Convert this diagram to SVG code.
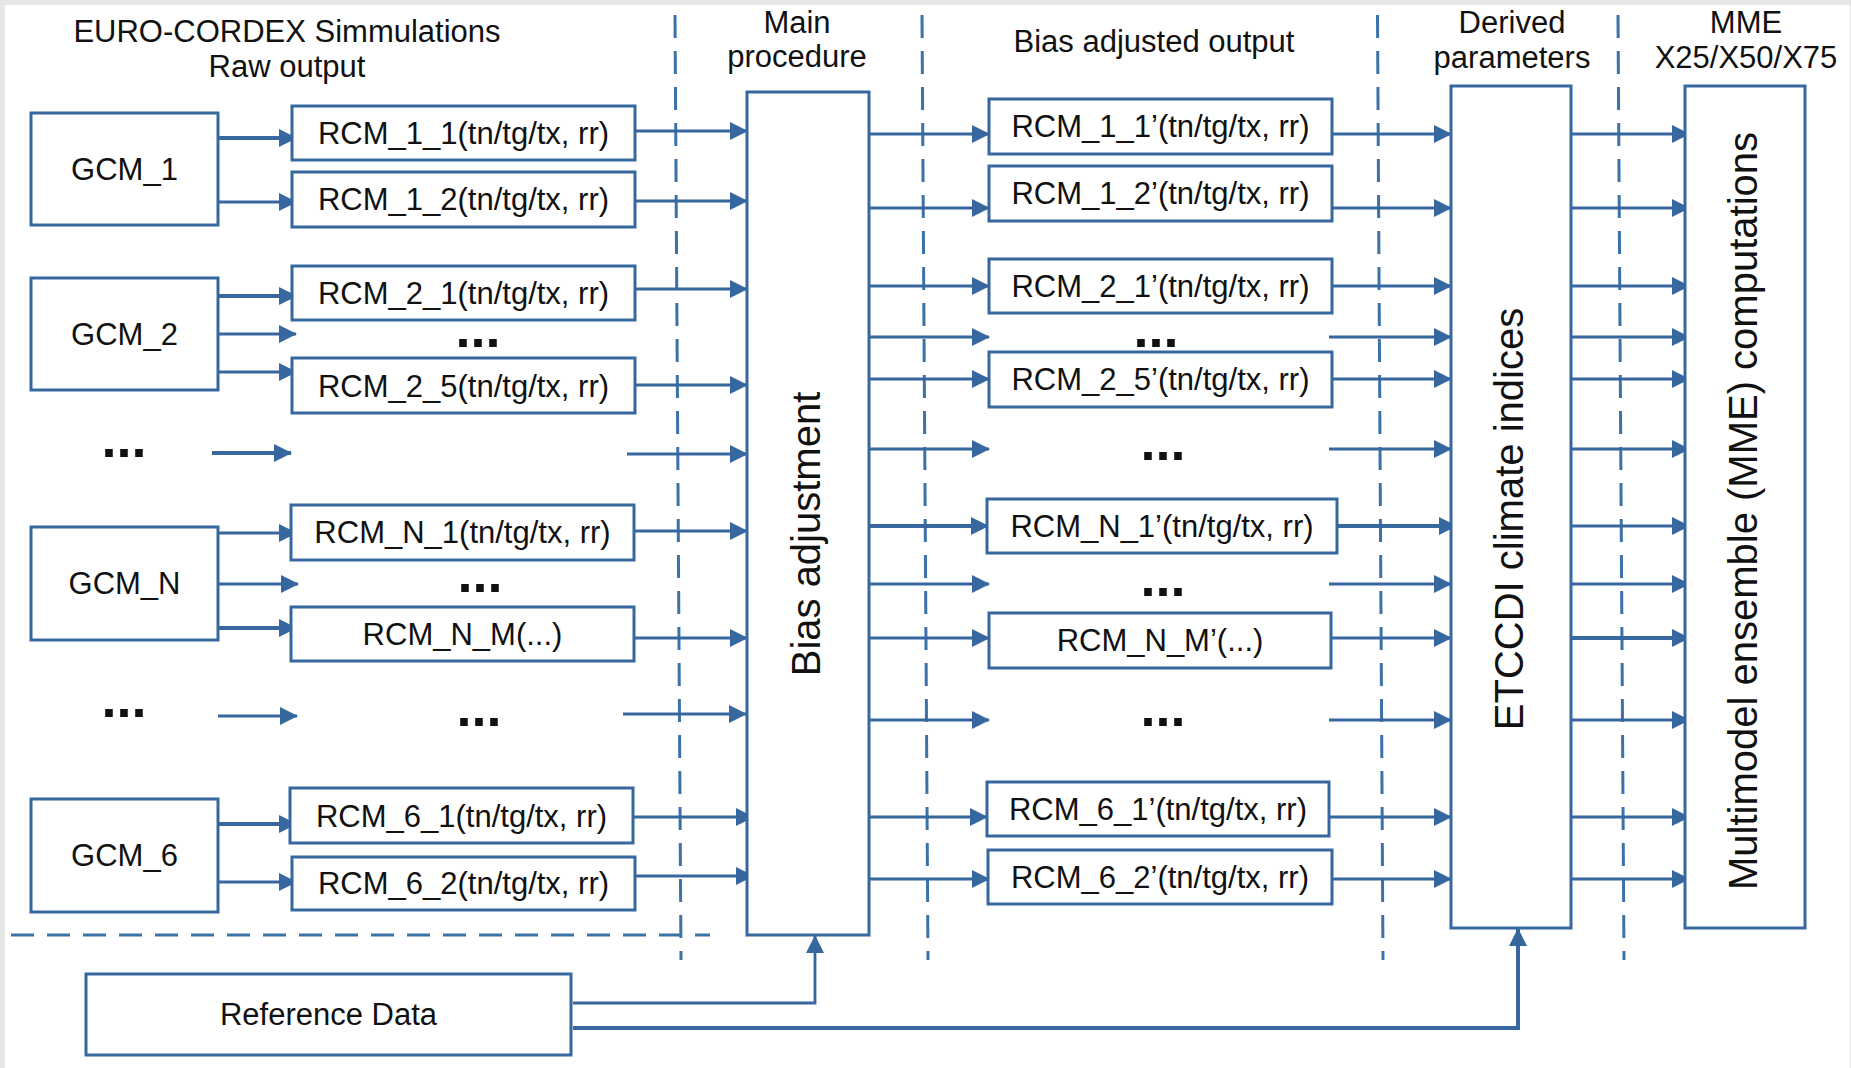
<svg xmlns="http://www.w3.org/2000/svg" width="1851" height="1068" viewBox="0 0 1851 1068">
<defs>
<marker id="ah" markerUnits="userSpaceOnUse" markerWidth="18" markerHeight="18" refX="17" refY="9" orient="auto" viewBox="0 0 18 18">
<path d="M0,0 L18,9 L0,18 Z" fill="#36679f"/>
</marker>
</defs>
<style>
.box{fill:#fff;stroke:#36679f;stroke-width:3}
.t{font-family:"Liberation Sans",Arial,sans-serif;font-size:31px;fill:#111;text-anchor:middle}
.v{font-family:"Liberation Sans",Arial,sans-serif;font-size:40px;fill:#111;text-anchor:middle}
.d{font-family:"Liberation Sans",Arial,sans-serif;font-size:54px;font-weight:bold;fill:#111;text-anchor:middle}
.c{stroke:#36679f;stroke-width:2.8;fill:none;marker-end:url(#ah)}
.k{stroke-width:4}
.dash{stroke:#3b72a8;stroke-width:3;fill:none;stroke-dasharray:23 13}
</style>
<rect x="0" y="0" width="1851" height="1068" fill="#e6e6e6"/>
<rect x="5" y="5" width="1845" height="1063" fill="#fff"/>

<g id="separators">
<line class="dash" x1="675" y1="15" x2="681" y2="960"/>
<line class="dash" x1="922" y1="15" x2="928" y2="960"/>
<line class="dash" x1="1377.5" y1="15" x2="1383" y2="960"/>
<line class="dash" x1="1618" y1="15" x2="1624" y2="960"/>
<line class="dash" x1="11" y1="935" x2="710" y2="935"/>
</g>

<g id="headers">
<text class="t" x="287" y="42">EURO-CORDEX Simmulations</text>
<text class="t" x="287" y="77">Raw output</text>
<text class="t" x="797" y="33">Main</text>
<text class="t" x="797" y="67">procedure</text>
<text class="t" x="1154" y="52">Bias adjusted output</text>
<text class="t" x="1512" y="33">Derived</text>
<text class="t" x="1512" y="68">parameters</text>
<text class="t" x="1746" y="33">MME</text>
<text class="t" x="1746" y="68">X25/X50/X75</text>
</g>

<g id="connectors">
<!-- stage 1 -->
<line class="c k" x1="218" y1="138" x2="296" y2="138"/>
<line class="c" x1="218" y1="202" x2="296" y2="202"/>
<line class="c k" x1="218" y1="296" x2="296" y2="296"/>
<line class="c" x1="218" y1="334" x2="296" y2="334"/>
<line class="c" x1="218" y1="372" x2="296" y2="372"/>
<line class="c k" x1="212" y1="453" x2="291" y2="453"/>
<line class="c" x1="218" y1="533" x2="296" y2="533"/>
<line class="c" x1="218" y1="584" x2="298" y2="584"/>
<line class="c k" x1="218" y1="628" x2="296" y2="628"/>
<line class="c" x1="218" y1="716" x2="297" y2="716"/>
<line class="c k" x1="218" y1="824" x2="296" y2="824"/>
<line class="c" x1="218" y1="882" x2="296" y2="882"/>
<!-- stage 2 -->
<line class="c" x1="628" y1="131" x2="747" y2="131"/>
<line class="c" x1="628" y1="201" x2="747" y2="201"/>
<line class="c" x1="628" y1="289" x2="747" y2="289"/>
<line class="c" x1="628" y1="385" x2="747" y2="385"/>
<line class="c" x1="627" y1="454" x2="747" y2="454"/>
<line class="c" x1="634" y1="531" x2="747" y2="531"/>
<line class="c" x1="634" y1="638" x2="747" y2="638"/>
<line class="c" x1="623" y1="714" x2="746" y2="714"/>
<line class="c" x1="632" y1="817" x2="753" y2="817"/>
<line class="c" x1="634" y1="876" x2="753" y2="876"/>
<!-- stage 3 -->
<line class="c" x1="869" y1="134" x2="989" y2="134"/>
<line class="c" x1="869" y1="208" x2="989" y2="208"/>
<line class="c" x1="869" y1="286" x2="989" y2="286"/>
<line class="c" x1="869" y1="337" x2="989" y2="337"/>
<line class="c" x1="869" y1="379" x2="989" y2="379"/>
<line class="c" x1="869" y1="449" x2="989" y2="449"/>
<line class="c k" x1="869" y1="526" x2="988" y2="526"/>
<line class="c" x1="869" y1="584" x2="989" y2="584"/>
<line class="c" x1="869" y1="638" x2="989" y2="638"/>
<line class="c" x1="869" y1="720" x2="989" y2="720"/>
<line class="c" x1="869" y1="817" x2="987" y2="817"/>
<line class="c" x1="869" y1="879" x2="989" y2="879"/>
<!-- stage 4 -->
<line class="c" x1="1332" y1="134" x2="1451" y2="134"/>
<line class="c" x1="1332" y1="208" x2="1451" y2="208"/>
<line class="c" x1="1332" y1="286" x2="1451" y2="286"/>
<line class="c" x1="1329" y1="337" x2="1451" y2="337"/>
<line class="c" x1="1332" y1="379" x2="1451" y2="379"/>
<line class="c" x1="1329" y1="449" x2="1451" y2="449"/>
<line class="c k" x1="1337" y1="526" x2="1456" y2="526"/>
<line class="c" x1="1329" y1="584" x2="1451" y2="584"/>
<line class="c" x1="1331" y1="638" x2="1451" y2="638"/>
<line class="c" x1="1329" y1="720" x2="1451" y2="720"/>
<line class="c" x1="1329" y1="817" x2="1451" y2="817"/>
<line class="c" x1="1332" y1="879" x2="1451" y2="879"/>
<!-- stage 5 -->
<line class="c" x1="1571" y1="134" x2="1689" y2="134"/>
<line class="c" x1="1571" y1="208" x2="1689" y2="208"/>
<line class="c" x1="1571" y1="286" x2="1689" y2="286"/>
<line class="c" x1="1568" y1="337" x2="1689" y2="337"/>
<line class="c" x1="1571" y1="379" x2="1689" y2="379"/>
<line class="c" x1="1571" y1="449" x2="1689" y2="449"/>
<line class="c" x1="1571" y1="526" x2="1689" y2="526"/>
<line class="c" x1="1568" y1="584" x2="1689" y2="584"/>
<line class="c k" x1="1571" y1="638" x2="1689" y2="638"/>
<line class="c" x1="1571" y1="720" x2="1689" y2="720"/>
<line class="c" x1="1571" y1="817" x2="1689" y2="817"/>
<line class="c" x1="1571" y1="879" x2="1689" y2="879"/>
<!-- reference data -->
<polyline class="c" points="573,1003 815,1003 815,936"/>
<polyline class="c k" points="573,1028 1518,1028 1518,929"/>
</g>

<g id="gcm1"><rect class="box" x="31" y="113" width="187" height="112"/><text class="t" x="124.5" y="180">GCM_1</text></g>
<g id="gcm2"><rect class="box" x="31" y="278" width="187" height="112"/><text class="t" x="124.5" y="345">GCM_2</text></g>
<g id="gcmN"><rect class="box" x="31" y="527" width="187" height="113"/><text class="t" x="124.5" y="594">GCM_N</text></g>
<g id="gcm6"><rect class="box" x="31" y="799" width="187" height="113"/><text class="t" x="124.5" y="866">GCM_6</text></g>

<g id="dots-left">
<text class="d" x="124" y="457">...</text>
<text class="d" x="124" y="717">...</text>
<text class="d" x="478" y="347">...</text>
<text class="d" x="480" y="592">...</text>
<text class="d" x="479" y="726">...</text>
</g>

<g id="rcm11"><rect class="box" x="292" y="106" width="343" height="54"/><text class="t" x="463.5" y="144">RCM_1_1(tn/tg/tx, rr)</text></g>
<g id="rcm12"><rect class="box" x="292" y="172" width="343" height="55"/><text class="t" x="463.5" y="210">RCM_1_2(tn/tg/tx, rr)</text></g>
<g id="rcm21"><rect class="box" x="292" y="266" width="343" height="54"/><text class="t" x="463.5" y="304">RCM_2_1(tn/tg/tx, rr)</text></g>
<g id="rcm25"><rect class="box" x="292" y="358" width="343" height="55"/><text class="t" x="463.5" y="397">RCM_2_5(tn/tg/tx, rr)</text></g>
<g id="rcmN1"><rect class="box" x="291" y="505" width="343" height="55"/><text class="t" x="462.5" y="543">RCM_N_1(tn/tg/tx, rr)</text></g>
<g id="rcmNM"><rect class="box" x="291" y="607" width="343" height="54"/><text class="t" x="462.5" y="645">RCM_N_M(...)</text></g>
<g id="rcm61"><rect class="box" x="290" y="788" width="343" height="55"/><text class="t" x="461.5" y="827">RCM_6_1(tn/tg/tx, rr)</text></g>
<g id="rcm62"><rect class="box" x="292" y="857" width="343" height="53"/><text class="t" x="463.5" y="894">RCM_6_2(tn/tg/tx, rr)</text></g>

<g id="main"><rect class="box" x="747" y="92" width="122" height="843"/><text class="v" x="820" y="534" transform="rotate(-90 820 534)">Bias adjustment</text></g>

<g id="rcm11b"><rect class="box" x="989" y="99" width="343" height="55"/><text class="t" x="1160.5" y="137">RCM_1_1’(tn/tg/tx, rr)</text></g>
<g id="rcm12b"><rect class="box" x="989" y="166" width="343" height="55"/><text class="t" x="1160.5" y="204">RCM_1_2’(tn/tg/tx, rr)</text></g>
<g id="rcm21b"><rect class="box" x="989" y="259" width="343" height="54"/><text class="t" x="1160.5" y="297">RCM_2_1’(tn/tg/tx, rr)</text></g>
<g id="rcm25b"><rect class="box" x="989" y="352" width="343" height="55"/><text class="t" x="1160.5" y="390">RCM_2_5’(tn/tg/tx, rr)</text></g>
<g id="rcmN1b"><rect class="box" x="987" y="499" width="350" height="54"/><text class="t" x="1162" y="537">RCM_N_1’(tn/tg/tx, rr)</text></g>
<g id="rcmNMb"><rect class="box" x="989" y="613" width="342" height="55"/><text class="t" x="1160" y="651">RCM_N_M’(...)</text></g>
<g id="rcm61b"><rect class="box" x="987" y="782" width="342" height="54"/><text class="t" x="1158" y="820">RCM_6_1’(tn/tg/tx, rr)</text></g>
<g id="rcm62b"><rect class="box" x="988" y="850" width="344" height="54"/><text class="t" x="1160" y="888">RCM_6_2’(tn/tg/tx, rr)</text></g>

<g id="dots-mid">
<text class="d" x="1156" y="347">...</text>
<text class="d" x="1163" y="460">...</text>
<text class="d" x="1163" y="596">...</text>
<text class="d" x="1163" y="726">...</text>
</g>

<g id="etccdi"><rect class="box" x="1451" y="86" width="120" height="842"/><text class="v" x="1523" y="519" transform="rotate(-90 1523 519)">ETCCDI climate indices</text></g>
<g id="mme"><rect class="box" x="1685" y="86" width="120" height="842"/><text class="v" x="1757" y="511" transform="rotate(-90 1757 511)">Multimodel ensemble (MME) computations</text></g>

<g id="reference"><rect class="box" x="86" y="974" width="485" height="81"/><text class="t" x="328.5" y="1025">Reference Data</text></g>
</svg>
